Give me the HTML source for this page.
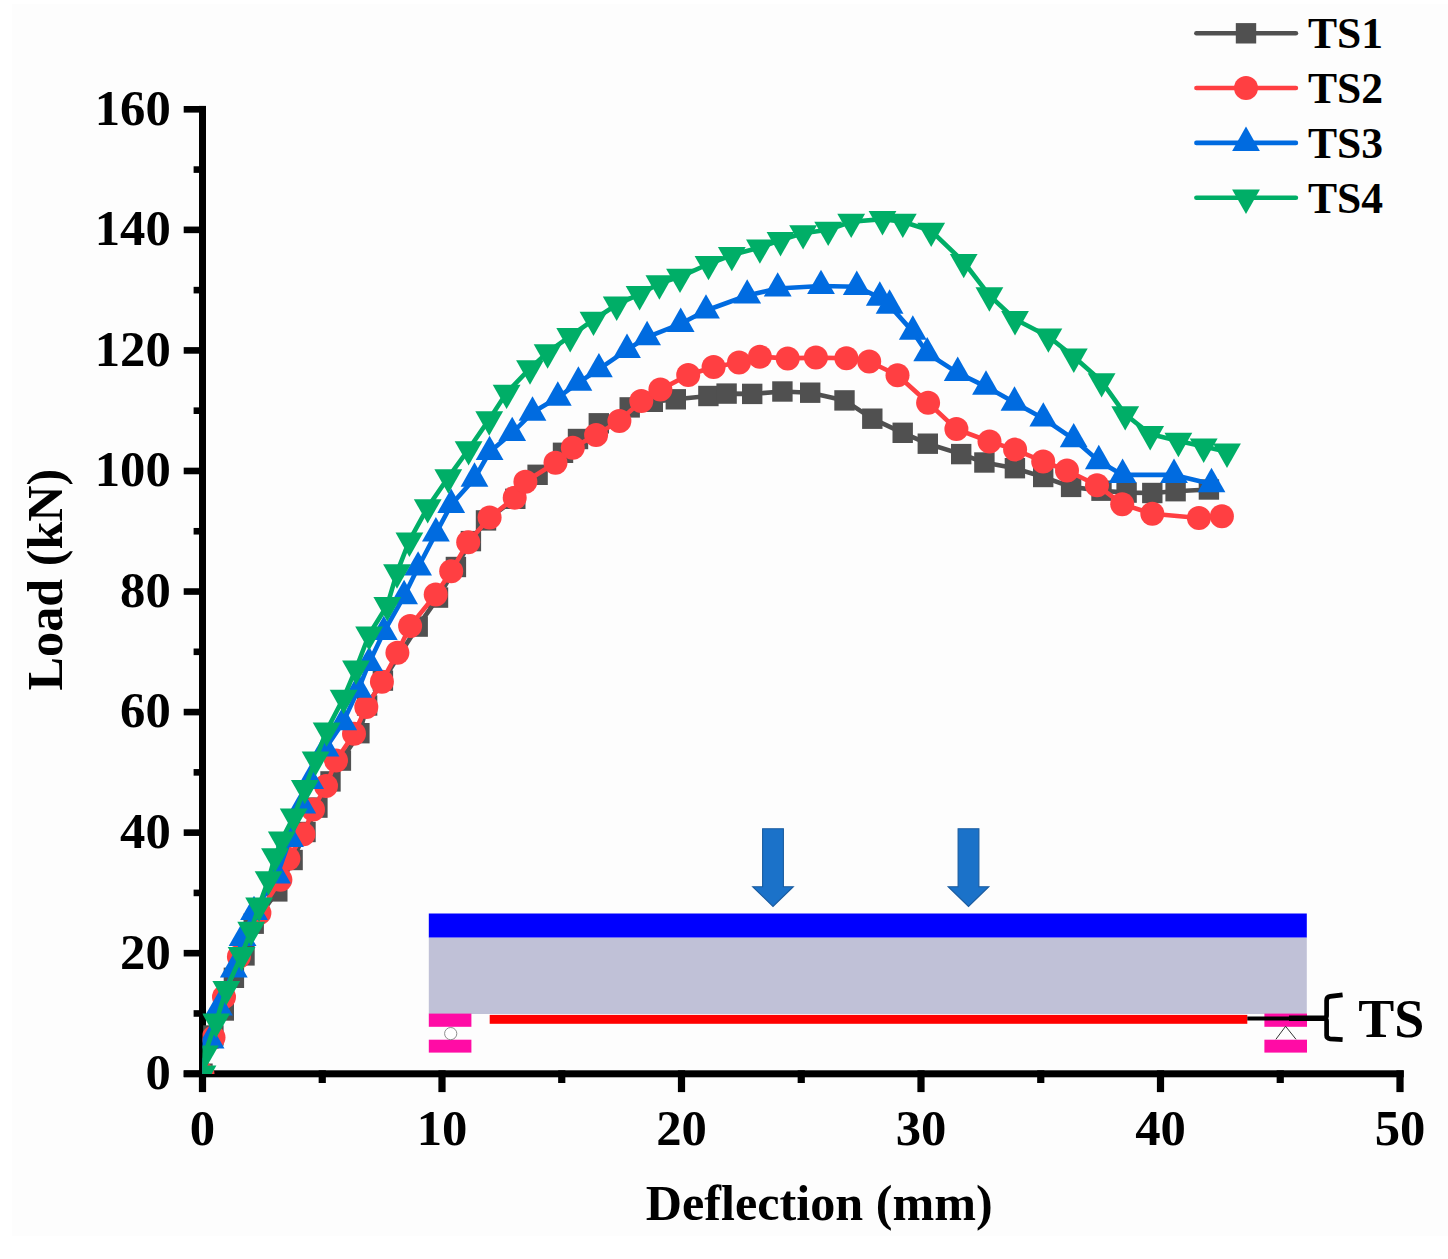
<!DOCTYPE html>
<html><head><meta charset="utf-8"><title>Load-Deflection</title><style>html,body{margin:0;padding:0;background:#fff;}body{width:1448px;height:1259px;position:relative;overflow:hidden;}</style></head><body>
<svg width="1448" height="1259" viewBox="0 0 1448 1259" style="position:absolute;left:0;top:0">
<rect x="12" y="4" width="1436" height="1232" fill="#fdfdfd"/>
<defs><clipPath id="pc"><rect x="202.5" y="60" width="1230" height="1014"/></clipPath></defs>
<rect x="428.8" y="913.5" width="878" height="24.2" fill="#0000ff"/>
<rect x="428.8" y="937.7" width="878" height="76.3" fill="#c0c1d7"/>
<rect x="489.7" y="1014.9" width="757.6" height="8.9" fill="#ff0000"/>
<rect x="428.8" y="1013.6" width="42.6" height="13.2" fill="#ff0ca5"/>
<rect x="428.8" y="1039.7" width="42.6" height="12.9" fill="#ff0ca5"/>
<rect x="1264.4" y="1013.6" width="42.6" height="13.2" fill="#ff0ca5"/>
<rect x="1264.4" y="1039.7" width="42.6" height="12.9" fill="#ff0ca5"/>
<circle cx="450.7" cy="1033.6" r="6.1" fill="#fff" stroke="#7a7a7a" stroke-width="0.85"/>
<path d="M1275.9 1039.3 L1285.6 1026.3 L1296 1039.3" fill="none" stroke="#333" stroke-width="1"/>
<path d="M1247.3 1018.4 H1291" stroke="#000" stroke-width="4.0" fill="none"/>
<path d="M1289 1018.2 H1326" stroke="#000" stroke-width="5.6" fill="none"/>
<path d="M1342.6 994.9 L1330.2 996.4 Q1326.6 997 1326.6 1000.5 V1015.6 Q1326.6 1017.6 1324.6 1018.2 Q1326.6 1018.9 1326.6 1020.9 V1035.6 Q1326.6 1038.4 1330.2 1038.8 L1342.6 1039.6" stroke="#000" stroke-width="4.7" fill="none"/>
<path d="M762.6 828.7 H783.4 V886.7 H793.3 L773.0 906.4 L752.7 886.7 H762.6 Z" fill="#1b72c9" stroke="#1a5b9f" stroke-width="1.1"/>
<path d="M958.1 828.7 H978.9 V886.7 H988.8 L968.5 906.4 L948.2 886.7 H958.1 Z" fill="#1b72c9" stroke="#1a5b9f" stroke-width="1.1"/>
<text transform="translate(1358.2,1037.1) scale(1,1.03)" style="font-family:'Liberation Serif',serif;font-weight:bold;font-size:54px" fill="#000">TS</text>
<g fill="#000">
<rect x="199" y="105.9" width="7" height="971.3"/>
<rect x="183.7" y="1070.3" width="1220.1" height="7"/>
<rect x="183.7" y="1070.45" width="22.3" height="6.6"/>
<rect x="183.7" y="949.89" width="22.3" height="6.6"/>
<rect x="183.7" y="829.34" width="22.3" height="6.6"/>
<rect x="183.7" y="708.78" width="22.3" height="6.6"/>
<rect x="183.7" y="588.23" width="22.3" height="6.6"/>
<rect x="183.7" y="467.67" width="22.3" height="6.6"/>
<rect x="183.7" y="347.11" width="22.3" height="6.6"/>
<rect x="183.7" y="226.56" width="22.3" height="6.6"/>
<rect x="183.7" y="106.00" width="22.3" height="6.6"/>
<rect x="193.6" y="1010.17" width="12.4" height="6.6"/>
<rect x="193.6" y="889.62" width="12.4" height="6.6"/>
<rect x="193.6" y="769.06" width="12.4" height="6.6"/>
<rect x="193.6" y="648.50" width="12.4" height="6.6"/>
<rect x="193.6" y="527.95" width="12.4" height="6.6"/>
<rect x="193.6" y="407.39" width="12.4" height="6.6"/>
<rect x="193.6" y="286.83" width="12.4" height="6.6"/>
<rect x="193.6" y="166.28" width="12.4" height="6.6"/>
<rect x="198.90" y="1070.3" width="7.2" height="21.8"/>
<rect x="438.40" y="1070.3" width="7.2" height="21.8"/>
<rect x="677.90" y="1070.3" width="7.2" height="21.8"/>
<rect x="917.40" y="1070.3" width="7.2" height="21.8"/>
<rect x="1156.90" y="1070.3" width="7.2" height="21.8"/>
<rect x="1396.40" y="1070.3" width="7.2" height="21.8"/>
<rect x="318.65" y="1070.3" width="7.2" height="12.7"/>
<rect x="558.15" y="1070.3" width="7.2" height="12.7"/>
<rect x="797.65" y="1070.3" width="7.2" height="12.7"/>
<rect x="1037.15" y="1070.3" width="7.2" height="12.7"/>
<rect x="1276.65" y="1070.3" width="7.2" height="12.7"/>
</g>
<g style="font-family:'Liberation Serif',serif;font-weight:bold;font-size:50.7px" fill="#000">
<text transform="translate(170.8,1089.0) scale(1,1.01)" text-anchor="end">0</text>
<text transform="translate(170.8,968.5) scale(1,1.01)" text-anchor="end">20</text>
<text transform="translate(170.8,847.9) scale(1,1.01)" text-anchor="end">40</text>
<text transform="translate(170.8,727.4) scale(1,1.01)" text-anchor="end">60</text>
<text transform="translate(170.8,606.8) scale(1,1.01)" text-anchor="end">80</text>
<text transform="translate(170.8,486.3) scale(1,1.01)" text-anchor="end">100</text>
<text transform="translate(170.8,365.7) scale(1,1.01)" text-anchor="end">120</text>
<text transform="translate(170.8,245.2) scale(1,1.01)" text-anchor="end">140</text>
<text transform="translate(170.8,124.6) scale(1,1.01)" text-anchor="end">160</text>
<text transform="translate(202.5,1144.8) scale(1,1.01)" text-anchor="middle">0</text>
<text transform="translate(442.0,1144.8) scale(1,1.01)" text-anchor="middle">10</text>
<text transform="translate(681.5,1144.8) scale(1,1.01)" text-anchor="middle">20</text>
<text transform="translate(921.0,1144.8) scale(1,1.01)" text-anchor="middle">30</text>
<text transform="translate(1160.5,1144.8) scale(1,1.01)" text-anchor="middle">40</text>
<text transform="translate(1400.0,1144.8) scale(1,1.01)" text-anchor="middle">50</text>
<text transform="translate(645.8,1219.9) scale(1,1.015)" style="font-size:50.2px">Deflection (mm)</text>
<text transform="translate(62.4,690.4) rotate(-90) scale(1,1.015)" style="font-size:50.2px">Load (kN)</text>
</g>
<g clip-path="url(#pc)">
<polyline points="202.5,1073.8 213.4,1035.5 223.8,1010.5 233.9,977.8 244.5,955.4 253.7,923.7 277.3,891.4 292.6,860.0 305.5,832.0 317.4,807.6 330.5,781.4 340.9,760.6 359.4,733.2 367.1,705.5 382.9,680.6 417.7,626.6 438.0,597.6 455.9,567.0 470.9,541.1 486.0,520.4 515.3,498.8 537.6,474.8 563.0,452.8 578.0,439.0 598.8,423.3 629.7,407.4 652.8,401.8 675.8,399.3 708.4,396.0 726.6,393.6 752.2,393.9 782.4,391.5 810.2,392.7 844.5,400.4 872.3,418.7 902.7,432.8 927.8,443.7 961.2,454.1 984.4,462.5 1014.9,468.2 1043.2,477.0 1071.1,486.9 1101.5,490.7 1126.6,492.6 1152.3,493.0 1175.6,491.2 1208.9,489.5" fill="none" stroke="#505050" stroke-width="4.6" stroke-linejoin="round"/>
<g fill="#505050"><rect x="192.3" y="1063.5" width="20.4" height="20.4"/><rect x="203.2" y="1025.3" width="20.4" height="20.4"/><rect x="213.6" y="1000.3" width="20.4" height="20.4"/><rect x="223.7" y="967.6" width="20.4" height="20.4"/><rect x="234.3" y="945.2" width="20.4" height="20.4"/><rect x="243.5" y="913.5" width="20.4" height="20.4"/><rect x="267.1" y="881.2" width="20.4" height="20.4"/><rect x="282.4" y="849.8" width="20.4" height="20.4"/><rect x="295.3" y="821.8" width="20.4" height="20.4"/><rect x="307.2" y="797.4" width="20.4" height="20.4"/><rect x="320.3" y="771.2" width="20.4" height="20.4"/><rect x="330.7" y="750.4" width="20.4" height="20.4"/><rect x="349.2" y="723.0" width="20.4" height="20.4"/><rect x="356.9" y="695.3" width="20.4" height="20.4"/><rect x="372.7" y="670.4" width="20.4" height="20.4"/><rect x="407.5" y="616.4" width="20.4" height="20.4"/><rect x="427.8" y="587.4" width="20.4" height="20.4"/><rect x="445.7" y="556.8" width="20.4" height="20.4"/><rect x="460.7" y="530.9" width="20.4" height="20.4"/><rect x="475.8" y="510.2" width="20.4" height="20.4"/><rect x="505.1" y="488.6" width="20.4" height="20.4"/><rect x="527.4" y="464.6" width="20.4" height="20.4"/><rect x="552.8" y="442.6" width="20.4" height="20.4"/><rect x="567.8" y="428.8" width="20.4" height="20.4"/><rect x="588.6" y="413.1" width="20.4" height="20.4"/><rect x="619.5" y="397.2" width="20.4" height="20.4"/><rect x="642.6" y="391.6" width="20.4" height="20.4"/><rect x="665.6" y="389.1" width="20.4" height="20.4"/><rect x="698.2" y="385.8" width="20.4" height="20.4"/><rect x="716.4" y="383.4" width="20.4" height="20.4"/><rect x="742.0" y="383.7" width="20.4" height="20.4"/><rect x="772.2" y="381.3" width="20.4" height="20.4"/><rect x="800.0" y="382.5" width="20.4" height="20.4"/><rect x="834.3" y="390.2" width="20.4" height="20.4"/><rect x="862.1" y="408.5" width="20.4" height="20.4"/><rect x="892.5" y="422.6" width="20.4" height="20.4"/><rect x="917.6" y="433.5" width="20.4" height="20.4"/><rect x="951.0" y="443.9" width="20.4" height="20.4"/><rect x="974.2" y="452.3" width="20.4" height="20.4"/><rect x="1004.7" y="458.0" width="20.4" height="20.4"/><rect x="1033.0" y="466.8" width="20.4" height="20.4"/><rect x="1060.9" y="476.7" width="20.4" height="20.4"/><rect x="1091.3" y="480.5" width="20.4" height="20.4"/><rect x="1116.4" y="482.4" width="20.4" height="20.4"/><rect x="1142.1" y="482.8" width="20.4" height="20.4"/><rect x="1165.4" y="481.0" width="20.4" height="20.4"/><rect x="1198.7" y="479.3" width="20.4" height="20.4"/></g>
<polyline points="202.5,1073.8 213.5,1037.4 224.0,997.0 238.9,956.7 259.4,912.9 280.4,879.7 288.4,858.7 303.4,834.3 313.0,809.5 326.0,786.0 336.0,760.5 354.0,733.8 366.3,707.1 381.9,681.7 397.4,652.8 410.1,626.1 435.7,594.5 451.2,571.2 468.2,542.2 489.6,517.6 514.7,497.7 525.4,481.8 555.5,462.7 572.8,447.7 596.1,434.9 619.4,420.9 641.3,401.0 660.4,389.6 688.2,375.0 713.6,367.0 739.0,362.6 759.9,356.8 787.7,358.4 815.9,357.6 846.4,358.2 869.2,361.5 897.5,375.2 928.1,402.8 956.4,429.1 989.5,441.5 1015.1,449.6 1043.2,461.5 1067.0,470.5 1097.0,485.2 1122.2,504.2 1152.3,513.7 1198.9,518.0 1221.9,516.2" fill="none" stroke="#ff3f42" stroke-width="4.6" stroke-linejoin="round"/>
<g fill="#ff3f42"><circle cx="202.5" cy="1073.8" r="12.0"/><circle cx="213.5" cy="1037.4" r="12.0"/><circle cx="224.0" cy="997.0" r="12.0"/><circle cx="238.9" cy="956.7" r="12.0"/><circle cx="259.4" cy="912.9" r="12.0"/><circle cx="280.4" cy="879.7" r="12.0"/><circle cx="288.4" cy="858.7" r="12.0"/><circle cx="303.4" cy="834.3" r="12.0"/><circle cx="313.0" cy="809.5" r="12.0"/><circle cx="326.0" cy="786.0" r="12.0"/><circle cx="336.0" cy="760.5" r="12.0"/><circle cx="354.0" cy="733.8" r="12.0"/><circle cx="366.3" cy="707.1" r="12.0"/><circle cx="381.9" cy="681.7" r="12.0"/><circle cx="397.4" cy="652.8" r="12.0"/><circle cx="410.1" cy="626.1" r="12.0"/><circle cx="435.7" cy="594.5" r="12.0"/><circle cx="451.2" cy="571.2" r="12.0"/><circle cx="468.2" cy="542.2" r="12.0"/><circle cx="489.6" cy="517.6" r="12.0"/><circle cx="514.7" cy="497.7" r="12.0"/><circle cx="525.4" cy="481.8" r="12.0"/><circle cx="555.5" cy="462.7" r="12.0"/><circle cx="572.8" cy="447.7" r="12.0"/><circle cx="596.1" cy="434.9" r="12.0"/><circle cx="619.4" cy="420.9" r="12.0"/><circle cx="641.3" cy="401.0" r="12.0"/><circle cx="660.4" cy="389.6" r="12.0"/><circle cx="688.2" cy="375.0" r="12.0"/><circle cx="713.6" cy="367.0" r="12.0"/><circle cx="739.0" cy="362.6" r="12.0"/><circle cx="759.9" cy="356.8" r="12.0"/><circle cx="787.7" cy="358.4" r="12.0"/><circle cx="815.9" cy="357.6" r="12.0"/><circle cx="846.4" cy="358.2" r="12.0"/><circle cx="869.2" cy="361.5" r="12.0"/><circle cx="897.5" cy="375.2" r="12.0"/><circle cx="928.1" cy="402.8" r="12.0"/><circle cx="956.4" cy="429.1" r="12.0"/><circle cx="989.5" cy="441.5" r="12.0"/><circle cx="1015.1" cy="449.6" r="12.0"/><circle cx="1043.2" cy="461.5" r="12.0"/><circle cx="1067.0" cy="470.5" r="12.0"/><circle cx="1097.0" cy="485.2" r="12.0"/><circle cx="1122.2" cy="504.2" r="12.0"/><circle cx="1152.3" cy="513.7" r="12.0"/><circle cx="1198.9" cy="518.0" r="12.0"/><circle cx="1221.9" cy="516.2" r="12.0"/></g>
<polyline points="202.5,1073.8 210.6,1040.3 219.0,1007.5 233.8,969.3 242.6,938.0 254.0,912.0 277.0,875.5 290.0,838.9 302.2,805.3 310.1,780.9 325.5,748.5 343.2,722.1 358.3,689.6 369.1,662.9 383.8,632.0 404.1,596.1 418.1,567.5 435.9,533.4 451.2,504.8 474.5,478.6 489.6,452.0 512.2,433.0 532.5,412.6 557.8,397.6 578.4,382.6 598.9,369.2 627.0,349.8 647.1,337.1 680.7,323.8 706.0,310.5 747.2,295.5 777.7,288.5 821.0,286.0 856.8,286.8 879.8,297.6 889.6,305.6 912.8,331.6 927.2,353.2 957.7,372.9 986.0,386.6 1014.5,402.6 1043.3,418.5 1073.7,439.2 1098.8,461.1 1122.6,474.9 1174.0,474.9 1211.5,484.1" fill="none" stroke="#006be0" stroke-width="4.6" stroke-linejoin="round"/>
<g fill="#006be0"><path d="M202.5 1057.5L188.6 1081.9L216.4 1081.9Z"/><path d="M210.6 1024.0L196.7 1048.4L224.5 1048.4Z"/><path d="M219.0 991.2L205.1 1015.6L232.9 1015.6Z"/><path d="M233.8 953.0L219.9 977.4L247.7 977.4Z"/><path d="M242.6 921.7L228.7 946.1L256.5 946.1Z"/><path d="M254.0 895.7L240.1 920.1L267.9 920.1Z"/><path d="M277.0 859.2L263.1 883.6L290.9 883.6Z"/><path d="M290.0 822.6L276.1 847.0L303.9 847.0Z"/><path d="M302.2 789.0L288.3 813.4L316.1 813.4Z"/><path d="M310.1 764.6L296.2 789.0L324.0 789.0Z"/><path d="M325.5 732.2L311.6 756.6L339.4 756.6Z"/><path d="M343.2 705.8L329.3 730.2L357.1 730.2Z"/><path d="M358.3 673.3L344.4 697.7L372.2 697.7Z"/><path d="M369.1 646.6L355.2 671.0L383.0 671.0Z"/><path d="M383.8 615.7L369.9 640.1L397.7 640.1Z"/><path d="M404.1 579.8L390.2 604.2L418.0 604.2Z"/><path d="M418.1 551.2L404.2 575.6L432.0 575.6Z"/><path d="M435.9 517.1L422.0 541.5L449.8 541.5Z"/><path d="M451.2 488.5L437.3 512.9L465.1 512.9Z"/><path d="M474.5 462.3L460.6 486.7L488.4 486.7Z"/><path d="M489.6 435.7L475.7 460.1L503.5 460.1Z"/><path d="M512.2 416.7L498.3 441.1L526.1 441.1Z"/><path d="M532.5 396.3L518.6 420.7L546.4 420.7Z"/><path d="M557.8 381.3L543.9 405.7L571.7 405.7Z"/><path d="M578.4 366.3L564.5 390.7L592.3 390.7Z"/><path d="M598.9 352.9L585.0 377.3L612.8 377.3Z"/><path d="M627.0 333.5L613.1 357.9L640.9 357.9Z"/><path d="M647.1 320.8L633.2 345.2L661.0 345.2Z"/><path d="M680.7 307.5L666.8 331.9L694.6 331.9Z"/><path d="M706.0 294.2L692.1 318.6L719.9 318.6Z"/><path d="M747.2 279.2L733.3 303.6L761.1 303.6Z"/><path d="M777.7 272.2L763.8 296.6L791.6 296.6Z"/><path d="M821.0 269.7L807.1 294.1L834.9 294.1Z"/><path d="M856.8 270.5L842.9 294.9L870.7 294.9Z"/><path d="M879.8 281.3L865.9 305.7L893.7 305.7Z"/><path d="M889.6 289.3L875.7 313.7L903.5 313.7Z"/><path d="M912.8 315.3L898.9 339.7L926.7 339.7Z"/><path d="M927.2 336.9L913.3 361.3L941.1 361.3Z"/><path d="M957.7 356.6L943.8 381.0L971.6 381.0Z"/><path d="M986.0 370.3L972.1 394.7L999.9 394.7Z"/><path d="M1014.5 386.3L1000.6 410.7L1028.4 410.7Z"/><path d="M1043.3 402.2L1029.4 426.6L1057.2 426.6Z"/><path d="M1073.7 422.9L1059.8 447.3L1087.6 447.3Z"/><path d="M1098.8 444.8L1084.9 469.2L1112.7 469.2Z"/><path d="M1122.6 458.6L1108.7 483.0L1136.5 483.0Z"/><path d="M1174.0 458.6L1160.1 483.0L1187.9 483.0Z"/><path d="M1211.5 467.8L1197.6 492.2L1225.4 492.2Z"/></g>
<polyline points="202.5,1073.8 204.9,1053.5 216.1,1021.7 226.3,989.2 241.6,955.0 251.2,929.9 259.1,905.6 268.6,879.3 275.0,856.3 281.8,839.6 293.7,816.6 304.8,788.0 315.6,759.6 326.6,730.5 343.6,697.9 356.0,668.7 369.1,634.5 387.3,605.2 397.0,572.4 409.4,540.6 427.7,507.3 448.3,477.4 468.6,449.3 489.2,419.4 506.6,392.8 530.0,368.4 547.6,352.4 570.2,336.2 593.5,319.8 616.7,304.7 639.6,294.2 659.4,283.4 680.0,276.8 708.5,264.0 731.8,255.0 759.9,247.5 780.5,240.1 803.1,233.3 828.2,229.8 851.2,221.8 882.5,219.1 902.8,221.8 931.2,230.8 963.7,262.0 989.4,295.4 1015.0,319.2 1048.4,336.5 1073.8,356.7 1101.6,381.3 1125.2,414.3 1150.2,434.1 1178.4,440.9 1203.7,446.6 1227.0,451.7" fill="none" stroke="#00ae67" stroke-width="4.6" stroke-linejoin="round"/>
<g fill="#00ae67"><path d="M202.5 1090.0L188.6 1065.6L216.4 1065.6Z"/><path d="M204.9 1069.8L191.0 1045.4L218.8 1045.4Z"/><path d="M216.1 1038.0L202.2 1013.6L230.0 1013.6Z"/><path d="M226.3 1005.5L212.4 981.1L240.2 981.1Z"/><path d="M241.6 971.3L227.7 946.9L255.5 946.9Z"/><path d="M251.2 946.2L237.3 921.8L265.1 921.8Z"/><path d="M259.1 921.9L245.2 897.5L273.0 897.5Z"/><path d="M268.6 895.6L254.7 871.2L282.5 871.2Z"/><path d="M275.0 872.6L261.1 848.2L288.9 848.2Z"/><path d="M281.8 855.9L267.9 831.5L295.7 831.5Z"/><path d="M293.7 832.9L279.8 808.5L307.6 808.5Z"/><path d="M304.8 804.3L290.9 779.9L318.7 779.9Z"/><path d="M315.6 775.9L301.7 751.5L329.5 751.5Z"/><path d="M326.6 746.8L312.7 722.4L340.5 722.4Z"/><path d="M343.6 714.2L329.7 689.8L357.5 689.8Z"/><path d="M356.0 685.0L342.1 660.6L369.9 660.6Z"/><path d="M369.1 650.8L355.2 626.4L383.0 626.4Z"/><path d="M387.3 621.5L373.4 597.1L401.2 597.1Z"/><path d="M397.0 588.7L383.1 564.3L410.9 564.3Z"/><path d="M409.4 556.9L395.5 532.5L423.3 532.5Z"/><path d="M427.7 523.6L413.8 499.2L441.6 499.2Z"/><path d="M448.3 493.7L434.4 469.3L462.2 469.3Z"/><path d="M468.6 465.6L454.7 441.2L482.5 441.2Z"/><path d="M489.2 435.7L475.3 411.3L503.1 411.3Z"/><path d="M506.6 409.1L492.7 384.7L520.5 384.7Z"/><path d="M530.0 384.7L516.1 360.3L543.9 360.3Z"/><path d="M547.6 368.7L533.7 344.3L561.5 344.3Z"/><path d="M570.2 352.5L556.3 328.1L584.1 328.1Z"/><path d="M593.5 336.1L579.6 311.7L607.4 311.7Z"/><path d="M616.7 321.0L602.8 296.6L630.6 296.6Z"/><path d="M639.6 310.5L625.7 286.1L653.5 286.1Z"/><path d="M659.4 299.7L645.5 275.3L673.3 275.3Z"/><path d="M680.0 293.1L666.1 268.7L693.9 268.7Z"/><path d="M708.5 280.3L694.6 255.9L722.4 255.9Z"/><path d="M731.8 271.3L717.9 246.9L745.7 246.9Z"/><path d="M759.9 263.8L746.0 239.4L773.8 239.4Z"/><path d="M780.5 256.4L766.6 232.0L794.4 232.0Z"/><path d="M803.1 249.6L789.2 225.2L817.0 225.2Z"/><path d="M828.2 246.1L814.3 221.7L842.1 221.7Z"/><path d="M851.2 238.1L837.3 213.7L865.1 213.7Z"/><path d="M882.5 235.4L868.6 211.0L896.4 211.0Z"/><path d="M902.8 238.1L888.9 213.7L916.7 213.7Z"/><path d="M931.2 247.1L917.3 222.7L945.1 222.7Z"/><path d="M963.7 278.3L949.8 253.9L977.6 253.9Z"/><path d="M989.4 311.7L975.5 287.3L1003.3 287.3Z"/><path d="M1015.0 335.5L1001.1 311.1L1028.9 311.1Z"/><path d="M1048.4 352.8L1034.5 328.4L1062.3 328.4Z"/><path d="M1073.8 373.0L1059.9 348.6L1087.7 348.6Z"/><path d="M1101.6 397.6L1087.7 373.2L1115.5 373.2Z"/><path d="M1125.2 430.6L1111.3 406.2L1139.1 406.2Z"/><path d="M1150.2 450.4L1136.3 426.0L1164.1 426.0Z"/><path d="M1178.4 457.2L1164.5 432.8L1192.3 432.8Z"/><path d="M1203.7 462.9L1189.8 438.5L1217.6 438.5Z"/><path d="M1227.0 468.0L1213.1 443.6L1240.9 443.6Z"/></g>
</g>
<line x1="1196.4" y1="33.3" x2="1295.9" y2="33.3" stroke="#505050" stroke-width="4.6" stroke-linecap="round"/>
<g fill="#505050"><rect x="1235.8" y="23.1" width="20.4" height="20.4"/></g>
<text transform="translate(1308,48.2) scale(1,1.02)" style="font-family:'Liberation Serif',serif;font-weight:bold;font-size:43.6px" fill="#000">TS1</text>
<line x1="1196.4" y1="88.0" x2="1295.9" y2="88.0" stroke="#ff3f42" stroke-width="4.6" stroke-linecap="round"/>
<g fill="#ff3f42"><circle cx="1246.0" cy="88.0" r="12.0"/></g>
<text transform="translate(1308,102.9) scale(1,1.02)" style="font-family:'Liberation Serif',serif;font-weight:bold;font-size:43.6px" fill="#000">TS2</text>
<line x1="1196.4" y1="142.9" x2="1295.9" y2="142.9" stroke="#006be0" stroke-width="4.6" stroke-linecap="round"/>
<g fill="#006be0"><path d="M1246.0 126.6L1232.1 151.0L1259.9 151.0Z"/></g>
<text transform="translate(1308,157.8) scale(1,1.02)" style="font-family:'Liberation Serif',serif;font-weight:bold;font-size:43.6px" fill="#000">TS3</text>
<line x1="1196.4" y1="197.7" x2="1295.9" y2="197.7" stroke="#00ae67" stroke-width="4.6" stroke-linecap="round"/>
<g fill="#00ae67"><path d="M1246.0 214.0L1232.1 189.6L1259.9 189.6Z"/></g>
<text transform="translate(1308,212.6) scale(1,1.02)" style="font-family:'Liberation Serif',serif;font-weight:bold;font-size:43.6px" fill="#000">TS4</text>
</svg>
</body></html>
